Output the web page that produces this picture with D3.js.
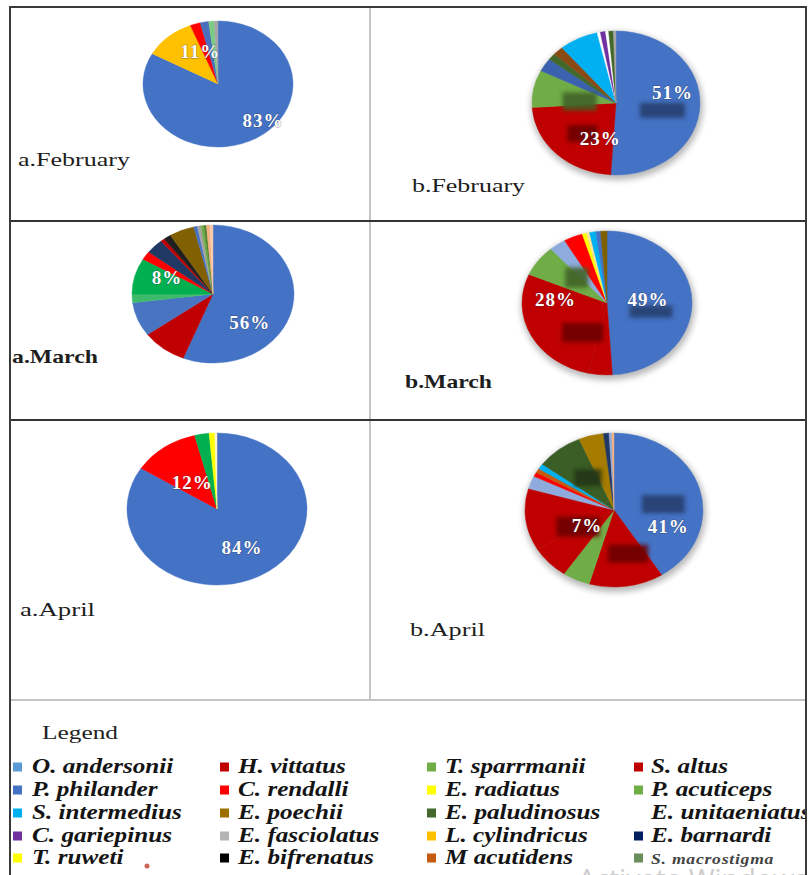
<!DOCTYPE html>
<html>
<head>
<meta charset="utf-8">
<script src="https://cdn.jsdelivr.net/npm/d3@7/dist/d3.min.js"></script>
<style>
  body { margin: 0; background: #fff; }
  svg { display: block; }
</style>
</head>
<body>
<svg width="809" height="875"></svg>
<script>
var width = 809;
var height = 875;

// catch share (%) per slice, clockwise from 12 o'clock
var febA = [83, 11, 2.2, 1.8, 1.2, 0.8];
var febB = [51, 23, 8.4, 3, 1.5, 2, 7.5, 0.6, 1, 0.6, 0.9, 0.5];
var marA = [56, 9, 8, 2, 8.4, 2, 3.5, 0.8, 1.5, 5, 0.7, 0.7, 0.6, 0.5, 0.7, 0.6];
var marB = [49, 4.5, 28, 7, 3.2, 3.6, 0.8, 0.6, 1.2, 0.9, 1.2];
var aprA = [84, 12, 2.6, 1, 0.4];
var aprB = [41, 13.5, 5, 7, 13, 2.7, 0.9, 0.9, 1.1, 8.5, 4.5, 1, 0.5, 0.4];

// slices that carry a percentage label
var febA_lab = [0, 1];
var febB_lab = [0, 1];
var marA_lab = [4, 0];
var marB_lab = [2, 0];
var aprA_lab = [0, 1];
var aprB_lab = [0, 3];

// legend
var species = ["O. andersonii", "H. vittatus", "T. sparrmanii", "S. altus",
               "P. philander", "C. rendalli", "E. radiatus", "P. acuticeps",
               "S. intermedius", "E. poechii", "E. paludinosus", "E. unitaeniatus",
               "C. gariepinus", "E. fasciolatus", "L. cylindricus", "E. barnardi",
               "T. ruweti", "E. bifrenatus", "M acutidens", "S. macrostigma"];

// ---- styles
var speciesColors = ["#5B9BD5", "#C00000", "#70AD47", "#C00000",
                     "#4472C4", "#FF0000", "#FFFF00", "#70AD47",
                     "#00B0F0", "#9C6F00", "#43682B", "none",
                     "#7030A0", "#B4B4B4", "#FFC000", "#002060",
                     "#FFFF00", "#000000", "#C55A11", "#6B8F5A"];

var febA_col = ["#4472C4","#FFC000","#FF0000","#4a6fbd","#7ACB86","#A5A5A5"];
var febB_col = ["#4472C4","#C00000","#70AD47","#3A62AE","#43682B","#8B4A14","#00B0F0","#FFFFFF","#7030A0","#FFFFFF","#43682B","#A5A5A5"];
var marA_col = ["#4472C4","#C00000","#4874C2","#3DBB6A","#00B050","#FF0000","#203864","#C00000","#1F1F1F","#806000","#4472C4","#A5A5A5","#70AD47","#548235","#F4B183","#F8CBAD"];
var marB_col = ["#4472C4","#C00000","#C00000","#70AD47","#8FAADC","#FF0000","#FFFF00","#FFE699","#00B0F0","#4472C4","#7F6000"];
var aprA_col = ["#4472C4","#FF0000","#00B050","#FFFF00","#FFF2CC"];
var aprB_col = ["#4472C4","#C00000","#70AD47","#C00000","#C00000","#8FAADC","#FF0000","#C55A11","#00B0F0","#3B5E26","#A67C00","#203864","#8FAADC","#F4B183"];

var svg = d3.select("svg");

var defs = svg.append("defs");
defs.append("filter").attr("id", "blur2").attr("x", "-50%").attr("y", "-50%").attr("width", "200%").attr("height", "200%")
    .append("feGaussianBlur").attr("stdDeviation", 2.2);
defs.append("filter").attr("id", "blur4").attr("x", "-20%").attr("y", "-20%").attr("width", "140%").attr("height", "140%")
    .append("feGaussianBlur").attr("stdDeviation", 3);

// panel layout: centre, radii, label nudges, label blobs [slice, dx, dy, w, h]
var panels = [
  {vals: febA, cols: febA_col, lab: febA_lab, cx: 218, cy: 84, rx: 75, ry: 63, glow: false,
   nudge: [[22, 3.5], [12, -4]], blobs: [],
   title: "a.February", tx: 18, ty: 166, tw: 112, bold: false},
  {vals: febB, cols: febB_col, lab: febB_lab, cx: 616, cy: 103, rx: 84, ry: 72, glow: true,
   nudge: [[6, -12], [20, 4.5]], blobs: [[0, -4, 6, 45, 15], [2, 13, 7, 34, 18], [1, 2, 0, 30, 17]],
   title: "b.February", tx: 412, ty: 192, tw: 113, bold: false},
  {vals: marA, cols: marA_col, lab: marA_lab, cx: 213, cy: 294, rx: 81, ry: 69, glow: false,
   nudge: [[1, -6], [-11, 21]], blobs: [],
   title: "a.March", tx: 12, ty: 363, tw: 86, bold: true},
  {vals: marB, cols: marB_col, lab: marB_lab, cx: 607, cy: 303, rx: 85, ry: 72, glow: true,
   nudge: [[-6, -23], [-10, -2]], blobs: [[3, 11, 0, 23, 20], [0, -7, 10, 43, 12], [2, 21, 10, 41, 19]],
   title: "b.March", tx: 405, ty: 388, tw: 87, bold: true},
  {vals: aprA, cols: aprA_col, lab: aprA_lab, cx: 217, cy: 509, rx: 90, ry: 76, glow: false,
   nudge: [[-1, -2], [7, 10]], blobs: [],
   title: "a.April", tx: 20, ty: 616, tw: 75, bold: false},
  {vals: aprB, cols: aprB_col, lab: aprB_lab, cx: 614, cy: 510, rx: 89, ry: 77, glow: true,
   nudge: [[3, 29], [12, -16]], blobs: [[0, -2, 7, 43, 18], [1, 6.5, -2, 40, 18], [3, 3, -15, 43, 20], [9, 7, 4, 27, 17]],
   title: "b.April", tx: 410, ty: 636, tw: 75, bold: false}
];

var pie = d3.pie().sort(null).value(function(d){ return d; });
var labelArc = d3.arc().innerRadius(0.6).outerRadius(0.6);

panels.forEach(function(p){
    var arcs = pie(p.vals);
    var g = svg.append("g").attr("class", "panel");

    if (p.glow) {
        g.append("ellipse")
            .attr("cx", p.cx + 1).attr("cy", p.cy + 3)
            .attr("rx", p.rx + 2).attr("ry", p.ry + 2)
            .style("fill", "#000").style("opacity", 0.28)
            .attr("filter", "url(#blur4)");
    }

    var arc = d3.arc().innerRadius(0).outerRadius(p.ry);
    g.append("g")
        .attr("transform", "translate(" + p.cx + "," + p.cy + ") scale(" + (p.rx / p.ry) + ",1)")
        .selectAll("path")
        .data(arcs)
        .enter()
        .append("path")
        .attr("d", arc)
        .style("fill", function(d, i){ return p.cols[i]; })
        .style("stroke", function(d, i){ return p.cols[i]; })
        .style("stroke-width", 0.4);

    function centroid(i){
        var c = labelArc.centroid(arcs[i]);
        return [p.cx + c[0] * p.rx, p.cy + c[1] * p.ry];
    }

    // blurred dark boxes behind data labels
    g.selectAll(".blob")
        .data(p.blobs)
        .enter()
        .append("rect").attr("class", "blob")
        .attr("x", function(b){ return centroid(b[0])[0] + b[1] - b[3] / 2; })
        .attr("y", function(b){ return centroid(b[0])[1] + b[2] - b[4] / 2; })
        .attr("width", function(b){ return b[3]; })
        .attr("height", function(b){ return b[4]; })
        .style("fill", function(b){ return d3.color(p.cols[b[0]]).darker(1.6); })
        .style("opacity", 0.9)
        .attr("filter", "url(#blur2)");

    g.selectAll(".pct")
        .data(p.lab)
        .enter()
        .append("text").attr("class", "pct")
        .attr("x", function(i, k){ return centroid(i)[0] + p.nudge[k][0]; })
        .attr("y", function(i, k){ return centroid(i)[1] + p.nudge[k][1]; })
        .attr("dy", "0.35em")
        .attr("text-anchor", "middle")
        .style("font-family", "'Liberation Serif', 'Times New Roman', serif")
        .style("font-weight", "bold")
        .style("font-size", "19px")
        .style("letter-spacing", "1px")
        .style("fill", "#fff")
        .style("stroke", "rgba(40,40,60,0.55)")
        .style("stroke-width", 0.8)
        .style("paint-order", "stroke")
        .text(function(i){ return Math.round(p.vals[i]) + "%"; });

    g.append("text")
        .attr("x", p.tx).attr("y", p.ty)
        .attr("textLength", p.tw).attr("lengthAdjust", "spacingAndGlyphs")
        .style("font-family", "'Liberation Serif', 'Times New Roman', serif")
        .style("font-size", "19px")
        .style("font-weight", p.bold ? "bold" : "normal")
        .style("fill", "#1e1e1e")
        .text(p.title);
});

// grid of the table
var grid = svg.append("g").attr("class", "grid");
grid.append("line").attr("x1", 370).attr("x2", 370).attr("y1", 7).attr("y2", 700)
    .style("stroke", "#c4c4c4").style("stroke-width", 2);
grid.append("line").attr("x1", 10).attr("x2", 806).attr("y1", 700).attr("y2", 700)
    .style("stroke", "#c4c4c4").style("stroke-width", 2);
[221, 420].forEach(function(y){
    grid.append("line").attr("x1", 10).attr("x2", 806).attr("y1", y).attr("y2", y)
        .style("stroke", "#333").style("stroke-width", 2);
});

// legend
var swatchX = [13, 220, 427, 634];
var textX = [32, 238, 445, 651];
var rowY = [767, 790, 813, 836, 858];
var color = d3.scaleOrdinal().domain(species).range(speciesColors);

var legend = svg.append("g").attr("class", "legend");
legend.append("text")
    .attr("x", 42).attr("y", 739)
    .attr("textLength", 76).attr("lengthAdjust", "spacingAndGlyphs")
    .style("font-family", "'Liberation Serif', 'Times New Roman', serif")
    .style("font-size", "19px")
    .style("fill", "#222")
    .text("Legend");

var item = legend.selectAll(".item")
    .data(species)
    .enter()
    .append("g").attr("class", "item");

item.append("rect")
    .attr("x", function(d, i){ return swatchX[i % 4]; })
    .attr("y", function(d, i){ return rowY[Math.floor(i / 4)] - 4.5; })
    .attr("width", 9).attr("height", 9)
    .style("fill", function(d){ return color(d); });

item.append("text")
    .attr("transform", function(d, i){
        return "translate(" + textX[i % 4] + "," + (rowY[Math.floor(i / 4)] + 6) + ") scale(1.26,1)";
    })
    .style("font-family", "'Liberation Serif', 'Times New Roman', serif")
    .style("font-style", "italic")
    .style("font-weight", "bold")
    .style("font-size", function(d){ return d == "S. macrostigma" ? "14px" : "20px"; })
    .style("letter-spacing", function(d){ return d == "S. macrostigma" ? "0.6px" : "0px"; })
    .style("fill", function(d){ return d == "S. macrostigma" ? "#444" : "#141414"; })
    .text(function(d){ return d; });

// screen artefacts present in the source image
svg.append("circle").attr("cx", 147).attr("cy", 866).attr("r", 2.5).style("fill", "#c0392b").style("opacity", 0.8);
svg.append("text")
    .attr("x", 578).attr("y", 889)
    .style("font-family", "'Open Sans', sans-serif")
    .style("font-size", "28px")
    .style("fill", "#cdcdcd")
    .text("Activate Windows");

// outer frame drawn last so it sits over the clipped legend text
svg.append("rect").attr("x", 10).attr("y", 7).attr("width", 796).attr("height", 900)
    .style("fill", "none").style("stroke", "#3a3a3a").style("stroke-width", 2);
svg.append("rect").attr("x", 807).attr("y", 0).attr("width", 2).attr("height", height)
    .style("fill", "#fff");
</script>
</body>
</html>
